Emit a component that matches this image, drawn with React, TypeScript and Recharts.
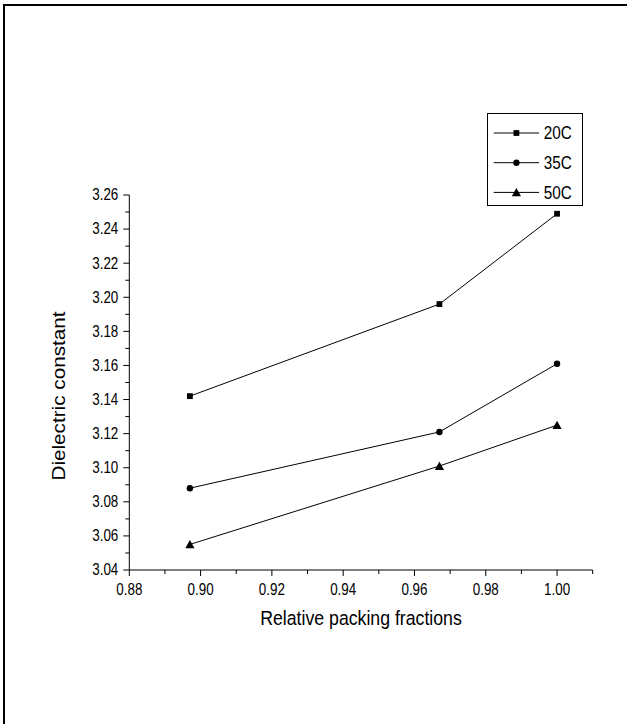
import React from 'react';
import { LineChart, Line, XAxis, YAxis, Legend, Label } from 'recharts';

// ---- data ----
const packingFractions = [0.897, 0.967, 1.0];
const series20C = [3.142, 3.196, 3.249];
const series35C = [3.088, 3.121, 3.161];
const series50C = [3.055, 3.101, 3.125];
const seriesNames = ['20C', '35C', '50C'];

const xMajorTicks = [0.88, 0.9, 0.92, 0.94, 0.96, 0.98, 1.0];
const xMinorTicks = [0.89, 0.91, 0.93, 0.95, 0.97, 0.99, 1.01];
const yMajorTicks = [3.04, 3.06, 3.08, 3.1, 3.12, 3.14, 3.16, 3.18, 3.2, 3.22, 3.24, 3.26];
const yMinorTicks = [3.05, 3.07, 3.09, 3.11, 3.13, 3.15, 3.17, 3.19, 3.21, 3.23, 3.25];

const xTitle = 'Relative packing fractions';
const yTitle = 'Dielectric constant';

const data = packingFractions.map((x, i) => ({
  x,
  s20: series20C[i],
  s35: series35C[i],
  s50: series50C[i],
}));

// ---- style ----
const FONT = '"Liberation Sans", Arial, Helvetica, sans-serif';
const STRETCH = 1.17;
const TICK_SIZE = 6;
const X_TICK_MARGIN = 8;
const Y_TICK_MARGIN = 5;

const markerShapes: Record<string, string> = { s20: 'square', s35: 'circle', s50: 'triangle' };

const Marker = ({ shape, cx, cy }: { shape: string; cx: number; cy: number }) => {
  if (shape === 'square') return <rect x={cx - 2.9} y={cy - 2.9} width={5.8} height={5.8} fill="#000" />;
  if (shape === 'circle') return <circle cx={cx} cy={cy} r={3.2} fill="#000" />;
  return <path d={`M${cx},${cy - 4.4}L${cx + 4.6},${cy + 3.9}L${cx - 4.6},${cy + 3.9}Z`} fill="#000" />;
};

const makeDot = (key: string) => (props: any) => {
  const { cx, cy, index } = props;
  if (cx == null || cy == null) return <g key={`${key}-${index}`} />;
  return (
    <g key={`${key}-${index}`}>
      <Marker shape={markerShapes[key]} cx={cx} cy={cy} />
    </g>
  );
};

const XTick = (props: any) => {
  const { x, y, payload } = props;
  const axisY = y - TICK_SIZE - X_TICK_MARGIN;
  const major = xMajorTicks.includes(payload.value);
  return (
    <g>
      <line x1={x} x2={x} y1={axisY} y2={axisY + (major ? 6 : 4)} stroke="#000" strokeWidth={1} />
      {major && (
        <text
          transform={`translate(${x},${y + 11}) scale(1,${STRETCH})`}
          textAnchor="middle"
          fontSize={13.4}
          fontFamily={FONT}
          fill="#000"
        >
          {Number(payload.value).toFixed(2)}
        </text>
      )}
    </g>
  );
};

const YTick = (props: any) => {
  const { x, y, payload } = props;
  const axisX = x + TICK_SIZE + Y_TICK_MARGIN;
  const major = yMajorTicks.includes(payload.value);
  return (
    <g>
      <line x1={axisX - (major ? 6 : 4)} x2={axisX} y1={y} y2={y} stroke="#000" strokeWidth={1} />
      {major && (
        <text
          transform={`translate(${x},${y + 5.4}) scale(1,${STRETCH})`}
          textAnchor="end"
          fontSize={13.4}
          fontFamily={FONT}
          fill="#000"
        >
          {Number(payload.value).toFixed(2)}
        </text>
      )}
    </g>
  );
};

const XTitle = (props: any) => {
  const vb = props.viewBox || { x: 0, y: 0, width: 0, height: 0 };
  const cx = vb.x + vb.width / 2;
  const by = vb.y + 55;
  return (
    <text
      transform={`translate(${cx},${by}) scale(1,${STRETCH})`}
      textAnchor="middle"
      fontSize={17.7}
      fontFamily={FONT}
      fill="#000"
    >
      {xTitle}
    </text>
  );
};

const YTitle = (props: any) => {
  const vb = props.viewBox || { x: 0, y: 0, width: 0, height: 0 };
  const bx = vb.x - 4.3;
  const cy = vb.y + vb.height / 2 + 13.5;
  return (
    <text
      transform={`translate(${bx},${cy}) scale(1,${STRETCH}) rotate(-90)`}
      textAnchor="middle"
      fontSize={17.7}
      fontFamily={FONT}
      fill="#000"
    >
      {yTitle}
    </text>
  );
};

const LegendBox = (props: any) => {
  const payload = props.payload || [];
  return (
    <svg width={96} height={93} style={{ display: 'block', overflow: 'visible' }}>
      <rect x={0.5} y={0.5} width={95} height={92} fill="#fff" stroke="#000" strokeWidth={1} />
      {payload.map((entry: any, i: number) => {
        const cy = 20 + i * 29.7;
        return (
          <g key={String(entry.value)}>
            <line x1={6.7} x2={52} y1={cy} y2={cy} stroke="#000" strokeWidth={1} />
            <Marker shape={markerShapes[entry.dataKey]} cx={29.4} cy={cy} />
            <text
              transform={`translate(56.7,${cy + 6.3}) scale(1,${STRETCH})`}
              fontSize={15.3}
              fontFamily={FONT}
              fill="#000"
            >
              {entry.value}
            </text>
          </g>
        );
      })}
    </svg>
  );
};

export default function App() {
  return (
    <div
      style={{
        position: 'absolute',
        left: 0,
        top: 0,
        width: 627,
        height: 724,
        overflow: 'hidden',
        background: '#fff',
      }}
    >
      <div style={{ position: 'absolute', left: 0, top: 0 }}>
        <LineChart
          width={627}
          height={724}
          data={data}
          margin={{ top: 195, right: 34.3, bottom: 104, left: 69.3 }}
        >
          <XAxis
            dataKey="x"
            type="number"
            domain={[0.88, 1.01]}
            allowDataOverflow
            ticks={[...xMajorTicks, ...xMinorTicks].sort((a, b) => a - b)}
            interval={0}
            tick={<XTick />}
            tickLine={false}
            tickSize={TICK_SIZE}
            tickMargin={X_TICK_MARGIN}
            axisLine={{ stroke: '#000', strokeWidth: 1 }}
            height={50}
          >
            <Label content={<XTitle />} />
          </XAxis>
          <YAxis
            type="number"
            domain={[3.04, 3.26]}
            allowDataOverflow
            ticks={[...yMajorTicks, ...yMinorTicks].sort((a, b) => a - b)}
            interval={0}
            tick={<YTick />}
            tickLine={false}
            tickSize={TICK_SIZE}
            tickMargin={Y_TICK_MARGIN}
            axisLine={{ stroke: '#000', strokeWidth: 1 }}
            width={60}
          >
            <Label content={<YTitle />} />
          </YAxis>
          <Legend
            layout="vertical"
            align="center"
            verticalAlign="middle"
            content={<LegendBox />}
            wrapperStyle={{ left: 487, top: 113, width: 96, height: 93 }}
          />
          <Line
            dataKey="s20"
            name={seriesNames[0]}
            stroke="#000"
            strokeWidth={1}
            type="linear"
            dot={makeDot('s20')}
            activeDot={false}
            isAnimationActive={false}
          />
          <Line
            dataKey="s35"
            name={seriesNames[1]}
            stroke="#000"
            strokeWidth={1}
            type="linear"
            dot={makeDot('s35')}
            activeDot={false}
            isAnimationActive={false}
          />
          <Line
            dataKey="s50"
            name={seriesNames[2]}
            stroke="#000"
            strokeWidth={1}
            type="linear"
            dot={makeDot('s50')}
            activeDot={false}
            isAnimationActive={false}
          />
        </LineChart>
      </div>
      <div
        style={{
          position: 'absolute',
          left: 3,
          top: 4,
          width: 700,
          height: 800,
          borderTop: '2px solid #000',
          borderLeft: '2px solid #000',
          boxSizing: 'border-box',
          pointerEvents: 'none',
        }}
      />
    </div>
  );
}
